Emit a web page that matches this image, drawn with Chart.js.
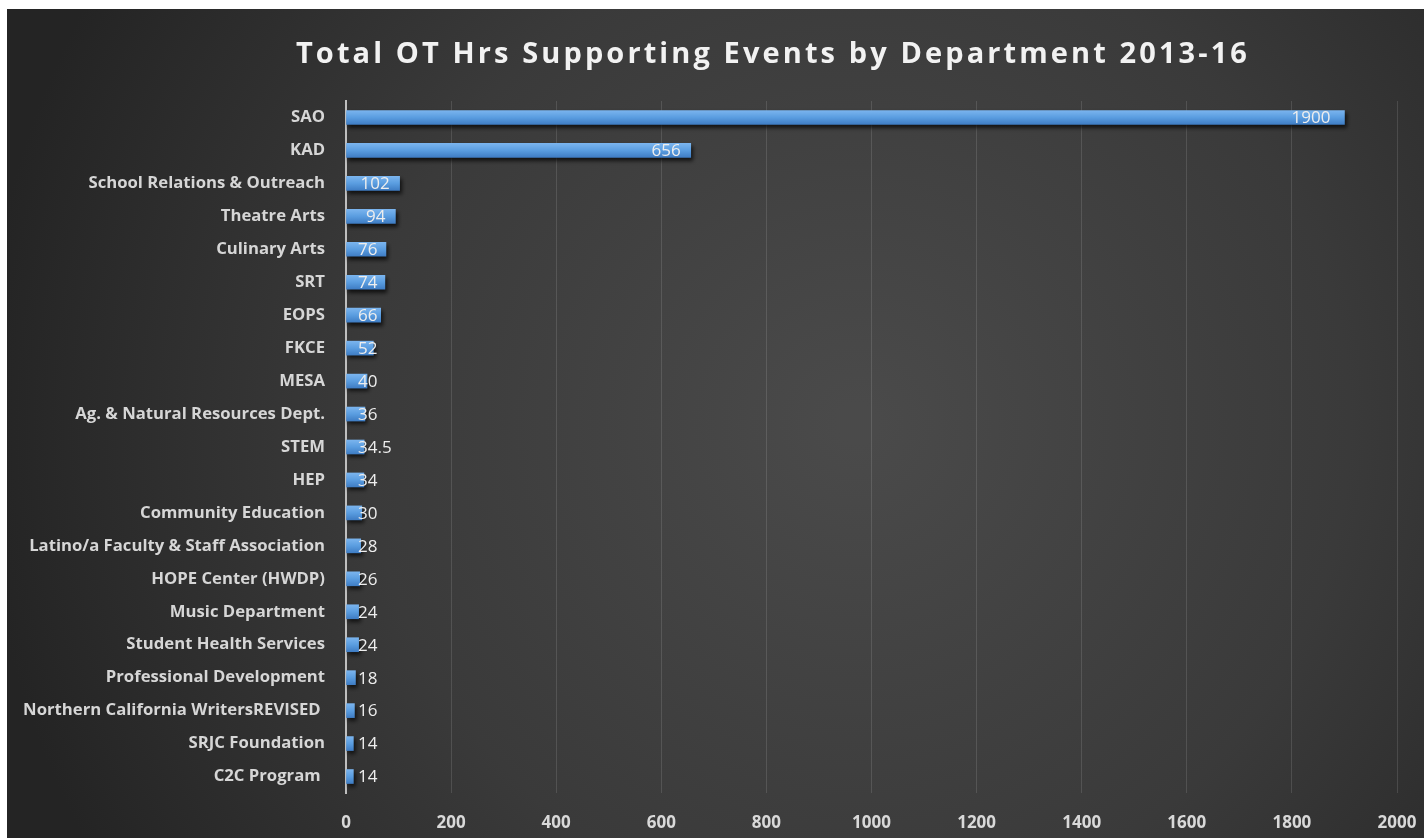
<!DOCTYPE html>
<html>
<head>
<meta charset="utf-8">
<title>Total OT Hrs Supporting Events by Department 2013-16</title>
<script src="https://cdn.jsdelivr.net/npm/chart.js@4/dist/chart.umd.min.js"></script>
<style>
  html, body { margin: 0; padding: 0; background: #fff; overflow: hidden; }
  #wrap { position: absolute; left: 7px; top: 9px; width: 1417px; height: 829px; }
</style>
</head>
<body>
<div id="wrap"><canvas id="myChart"></canvas></div>
<script>
var chartTitle = 'Total OT Hrs Supporting Events by Department 2013-16';

var departments = [
  'SAO', 'KAD', 'School Relations & Outreach', 'Theatre Arts', 'Culinary Arts',
  'SRT', 'EOPS', 'FKCE', 'MESA', 'Ag. & Natural Resources Dept.', 'STEM', 'HEP',
  'Community Education', 'Latino/a Faculty & Staff Association', 'HOPE Center (HWDP)',
  'Music Department', 'Student Health Services', 'Professional Development',
  'Northern California WritersREVISED ', 'SRJC Foundation', 'C2C Program '
];

var otHours = [1900, 656, 102, 94, 76, 74, 66, 52, 40, 36, 34.5, 34, 30, 28, 26, 24, 24, 18, 16, 14, 14];

var xTicks = [0, 200, 400, 600, 800, 1000, 1200, 1400, 1600, 1800, 2000];

// dark vignette behind everything
var backdrop = {
  id: 'backdrop',
  beforeDraw: function(chart) {
    var ctx = chart.ctx, w = chart.width, h = chart.height;
    var g = ctx.createRadialGradient(w * 0.6, h * 0.5, 20, w * 0.6, h * 0.5, w * 0.62);
    g.addColorStop(0, '#4a4a4a');
    g.addColorStop(0.55, '#3a3a3a');
    g.addColorStop(1, '#242424');
    ctx.save();
    ctx.fillStyle = g;
    ctx.fillRect(0, 0, w, h);
    ctx.restore();
  }
};

var spacedTitle = {
  id: 'spacedTitle',
  afterDraw: function(chart) {
    var ctx = chart.ctx;
    ctx.save();
    ctx.font = 'bold 29px "Open Sans"';
    ctx.letterSpacing = '3.1px';
    ctx.fillStyle = '#f2f2f2';
    ctx.textAlign = 'center';
    ctx.textBaseline = 'alphabetic';
    ctx.fillText(chartTitle, 766, 54);
    ctx.restore();
  }
};

// soft drop shadow under the bars
var barShadow = {
  id: 'barShadow',
  beforeDatasetDraw: function(chart) {
    var ctx = chart.ctx;
    ctx.save();
    ctx.shadowColor = 'rgba(0,0,0,0.7)';
    ctx.shadowBlur = 4;
    ctx.shadowOffsetX = 2;
    ctx.shadowOffsetY = 3;
  },
  afterDatasetDraw: function(chart) {
    chart.ctx.restore();
  }
};

// value labels, inside the bar end, pushed off the axis when the bar is short
var valueLabels = {
  id: 'valueLabels',
  afterDatasetsDraw: function(chart) {
    var ctx = chart.ctx;
    var meta = chart.getDatasetMeta(0);
    var base = chart.scales.x.getPixelForValue(0);
    ctx.save();
    ctx.font = '17px "Open Sans"';
    ctx.fillStyle = '#eeeeee';
    ctx.textAlign = 'left';
    ctx.textBaseline = 'middle';
    meta.data.forEach(function(bar, i) {
      var txt = String(otHours[i]);
      var w = ctx.measureText(txt).width;
      var inset = otHours[i] > 1000 ? 14 : 10;
      var x = Math.max(bar.x - inset - w, base + 12);
      ctx.fillText(txt, x, bar.y + 1);
    });
    ctx.restore();
  }
};

var ctx = document.getElementById('myChart').getContext('2d');
var chart = new Chart(ctx, {
  type: 'bar',
  data: {
    labels: departments,
    datasets: [{
      data: otHours,
      barThickness: 14,
      borderWidth: 0,
      backgroundColor: function(c) {
        var yScale = c.chart.scales.y;
        var y = yScale ? yScale.getPixelForValue(c.dataIndex) : NaN;
        if (!isFinite(y)) return '#5b9bd5';
        var g = c.chart.ctx.createLinearGradient(0, y - 7, 0, y + 7);
        g.addColorStop(0, '#7ab4ee');
        g.addColorStop(0.5, '#5a9de0');
        g.addColorStop(1, '#3f7dc4');
        return g;
      }
    }]
  },
  options: {
    indexAxis: 'y',
    responsive: true,
    maintainAspectRatio: false,
    animation: false,
    layout: { padding: { left: 0, right: 27, top: 92, bottom: 0 } },
    plugins: {
      legend: { display: false },
      title: { display: false },
      tooltip: { enabled: false }
    },
    scales: {
      x: {
        min: 0,
        max: 2000,
        afterBuildTicks: function(axis) {
          axis.ticks = xTicks.map(function(v) { return { value: v }; });
        },
        afterFit: function(axis) {
          axis.height = 45;
          axis.paddingLeft = 0;
          axis.paddingRight = 0;
        },
        grid: { color: 'rgba(255,255,255,0.12)', drawTicks: false },
        border: { display: false },
        ticks: {
          padding: 20,
          color: '#d9d9d9',
          font: { family: 'Open Sans', weight: 'bold', size: 17 },
          callback: function(v) { return String(v); }
        }
      },
      y: {
        afterFit: function(axis) { axis.width = 339; },
        grid: { display: false, drawTicks: false },
        border: { display: true, color: '#bfbfbf', width: 2 },
        ticks: {
          padding: 21,
          color: '#d6d6d6',
          font: { family: 'Open Sans', weight: 'bold', size: 16.7 }
        }
      }
    }
  },
  plugins: [backdrop, barShadow, valueLabels, spacedTitle]
});
</script>
</body>
</html>
